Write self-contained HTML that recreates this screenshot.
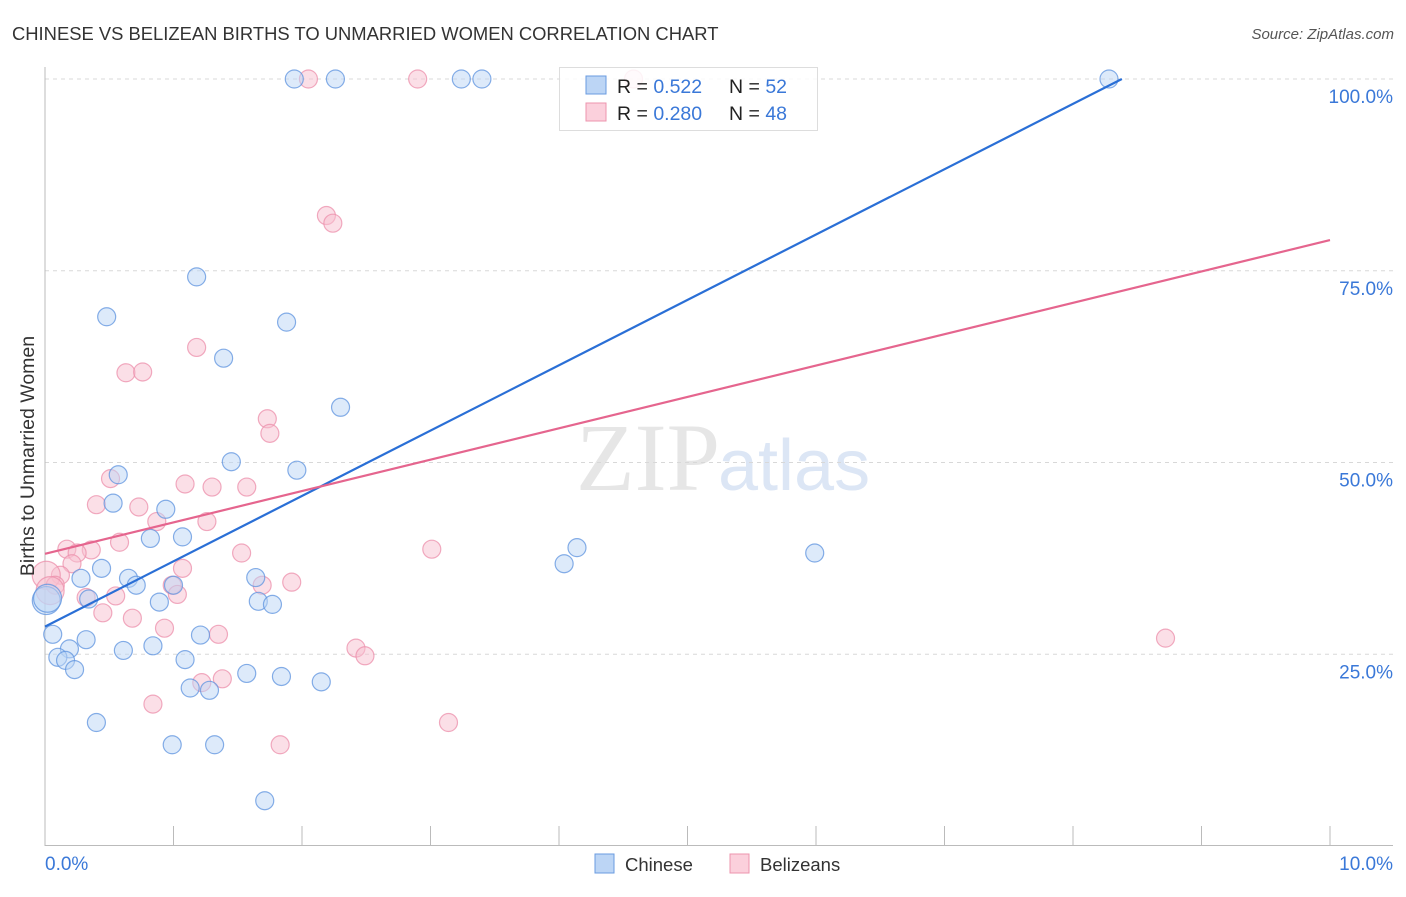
<!DOCTYPE html>
<html><head><meta charset="utf-8"><style>
body{margin:0;background:#fff;font-family:"Liberation Sans",sans-serif;}
</style></head><body>
<svg id="chart" width="1406" height="892" xmlns="http://www.w3.org/2000/svg">
<text x="12" y="40" font-size="18.4" fill="#333">CHINESE VS BELIZEAN BIRTHS TO UNMARRIED WOMEN CORRELATION CHART</text>
<text x="1394" y="39" font-size="15" fill="#555" font-style="italic" text-anchor="end">Source: ZipAtlas.com</text>
<text x="720" y="490" font-size="96" fill="#e6e6e6" text-anchor="end" font-family="Liberation Serif,serif">ZIP</text>
<text x="718" y="490" font-size="72" fill="#dce6f5">atlas</text>
<g id="grid"></g>
<g id="axes"></g>
<g id="marks"></g>
<text transform="translate(34,456) rotate(-90)" font-size="19.5" fill="#333" text-anchor="middle">Births to Unmarried Women</text>
<text x="45" y="870" font-size="19" fill="#3a78d8">0.0%</text>
<text x="1393" y="870" font-size="19" fill="#3a78d8" text-anchor="end">10.0%</text>
<g>
<rect x="595" y="854" width="19" height="19" fill="#bcd5f5" stroke="#6a9be0"/>
<text x="625" y="871" font-size="18.5" fill="#333">Chinese</text>
<rect x="730" y="854" width="19" height="19" fill="#fbd0dc" stroke="#ec94ae"/>
<text x="760" y="871" font-size="18.5" fill="#333">Belizeans</text>
</g>
<g>
<rect x="559.5" y="67.5" width="258" height="63" fill="#fff" fill-opacity="0.85" stroke="#ddd"/>
<rect x="586" y="76" width="20" height="18" fill="#bcd5f5" stroke="#6a9be0"/>
<text x="617" y="93" font-size="19.5" fill="#222">R = <tspan fill="#3a78d8">0.522</tspan><tspan x="729">N = </tspan><tspan fill="#3a78d8">52</tspan></text>
<rect x="586" y="103" width="20" height="18" fill="#fbd0dc" stroke="#ec94ae"/>
<text x="617" y="120" font-size="19.5" fill="#222">R = <tspan fill="#3a78d8">0.280</tspan><tspan x="729">N = </tspan><tspan fill="#3a78d8">48</tspan></text>
</g>
</svg>
<script>
const yTicks=[25,50,75,100];
const yTickLabels=["25.0%","50.0%","75.0%","100.0%"];
const chineseX=[1.94,2.26,3.24,3.40,8.28,1.18,0.48,1.88,1.39,2.30,1.45,1.96,0.57,0.53,0.94,0.82,1.07,4.14,4.04,5.99,0.44,0.28,0.65,1.64,0.71,1.00,0.01,0.34,0.89,1.66,1.77,0.06,0.32,1.21,0.19,0.61,0.84,0.10,0.16,0.23,1.09,1.57,1.84,2.15,1.13,1.28,0.40,0.99,1.32,1.71,0.02];
const chineseY=[100,100,100,100,100,74.2,69.0,68.3,63.6,57.2,50.1,49.0,48.4,44.7,43.9,40.1,40.3,38.9,36.8,38.2,36.2,34.9,34.9,35.0,34.0,34.0,32.0,32.2,31.8,31.9,31.5,27.6,26.9,27.5,25.7,25.5,26.1,24.6,24.2,23.0,24.3,22.5,22.1,21.4,20.6,20.3,16.1,13.2,13.2,5.9,32.3];
const belizeanX=[2.05,2.90,4.58,2.19,2.24,1.18,0.63,0.76,1.73,1.75,0.51,0.40,1.09,1.30,1.57,0.73,0.87,1.26,0.58,3.01,0.17,0.36,0.25,1.53,0.21,0.12,1.07,0.01,1.92,0.08,0.99,1.69,1.03,0.32,0.55,0.45,0.68,0.93,1.35,2.42,2.49,8.72,1.22,1.38,0.84,1.83,3.14,0.04];
const belizeanY=[100,100,100,82.2,81.2,65.0,61.7,61.8,55.7,53.8,47.9,44.5,47.2,46.8,46.8,44.2,42.3,42.3,39.6,38.7,38.7,38.6,38.2,38.2,36.8,35.3,36.2,35.3,34.4,34.0,34.0,34.0,32.8,32.4,32.6,30.4,29.7,28.4,27.6,25.8,24.8,27.1,21.3,21.8,18.5,13.2,16.1,33.3];
const chineseTrend=[28.6,8.52];
const belizeanTrend=[38.1,4.09];
const X0=45,X1=1330,Y0=846,Y100=79;
const sx=v=>X0+(v/10)*(X1-X0);
const sy=v=>Y0-(v/100)*(Y0-Y100);
const NS="http://www.w3.org/2000/svg";
function mk(tag,attrs,parent){const e=document.createElementNS(NS,tag);for(const k in attrs)e.setAttribute(k,attrs[k]);parent.appendChild(e);return e;}
const grid=document.getElementById('grid'),axes=document.getElementById('axes'),marks=document.getElementById('marks');
yTicks.forEach((t,i)=>{
 const l=mk('line',{x1:45,x2:1393,y1:sy(t),y2:sy(t),stroke:'#d8d8d8','stroke-dasharray':'4,4'},grid);
 
 
 const tx=mk('text',{x:1393,y:sy(t)+24,'font-size':19,fill:'#3a78d8','text-anchor':'end'},grid);
 tx.textContent=yTickLabels[i];
 
 
});
const ax=mk('line',{x1:45,x2:45,y1:67,y2:846,stroke:'#bbb'},axes);


const bx=mk('line',{x1:45,x2:1393,y1:845.5,y2:845.5,stroke:'#bbb'},axes);


for(let k=1;k<=10;k++){
 const t=mk('line',{x1:sx(k),x2:sx(k),y1:826,y2:846,stroke:'#bbb'},axes);
 
 
}
function dots(xs,ys,fill,stroke,name){
 xs.forEach((x,i)=>{
  const big=(x<0.05);
  const c=mk('circle',{cx:sx(x),cy:sy(ys[i]),r:big?14:9,fill:fill,'fill-opacity':0.5,stroke:stroke,'stroke-width':1.2,'stroke-opacity':0.75},marks);
  
  
 });
}
dots(belizeanX,belizeanY,'#f8bfd0','#ec8fab','belizean-point');
dots(chineseX,chineseY,'#bcd5f5','#5d93df','chinese-point');
const cEnd=(100-chineseTrend[0])/chineseTrend[1];
const l1=mk('line',{x1:sx(0),y1:sy(chineseTrend[0]),x2:sx(cEnd),y2:sy(100),stroke:'#2a6fd6','stroke-width':2.2},marks);


const l2=mk('line',{x1:sx(0),y1:sy(belizeanTrend[0]),x2:sx(10),y2:sy(belizeanTrend[0]+10*belizeanTrend[1]),stroke:'#e5658e','stroke-width':2.2},marks);


</script>
</body></html>
